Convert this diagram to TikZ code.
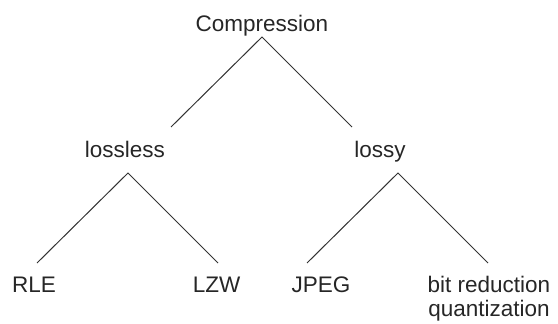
\documentclass[tikz,border=0pt]{standalone}
\usepackage{fontspec}
\setmainfont{Liberation Sans}
\begin{document}
\begin{tikzpicture}[x=1pt,y=-1pt,
  lbl/.style={anchor=base,inner sep=0pt,font=\fontsize{22.5}{24}\selectfont,text=black!85},
  edge/.style={draw=black!80,line width=1pt}]
\useasboundingbox (0,0) rectangle (558,324);
\node[lbl] (comp) at (262,31) {Compression};
\node[lbl] (lossless) at (125,157) {lossless};
\node[lbl] (lossy) at (380,157) {lossy};
\node[lbl] (rle) at (34,292) {RLE};
\node[lbl] (lzw) at (216.5,292) {LZW};
\node[lbl] (jpeg) at (321,292) {JPEG};
\node[lbl,align=center] (bit) at (489,316) {bit reduction\\quantization};
\coordinate (cA) at (262,37);
\coordinate (cL) at (171,127);
\coordinate (cR) at (352,127);
\coordinate (lA) at (128,173);
\coordinate (lL) at (37,263);
\coordinate (lR) at (218,263);
\coordinate (yA) at (398,173);
\coordinate (yL) at (307,263);
\coordinate (yR) at (488,263);
\draw[edge] (cL) -- (cA) -- (cR);
\draw[edge] (lL) -- (lA) -- (lR);
\draw[edge] (yL) -- (yA) -- (yR);
\end{tikzpicture}
\end{document}
